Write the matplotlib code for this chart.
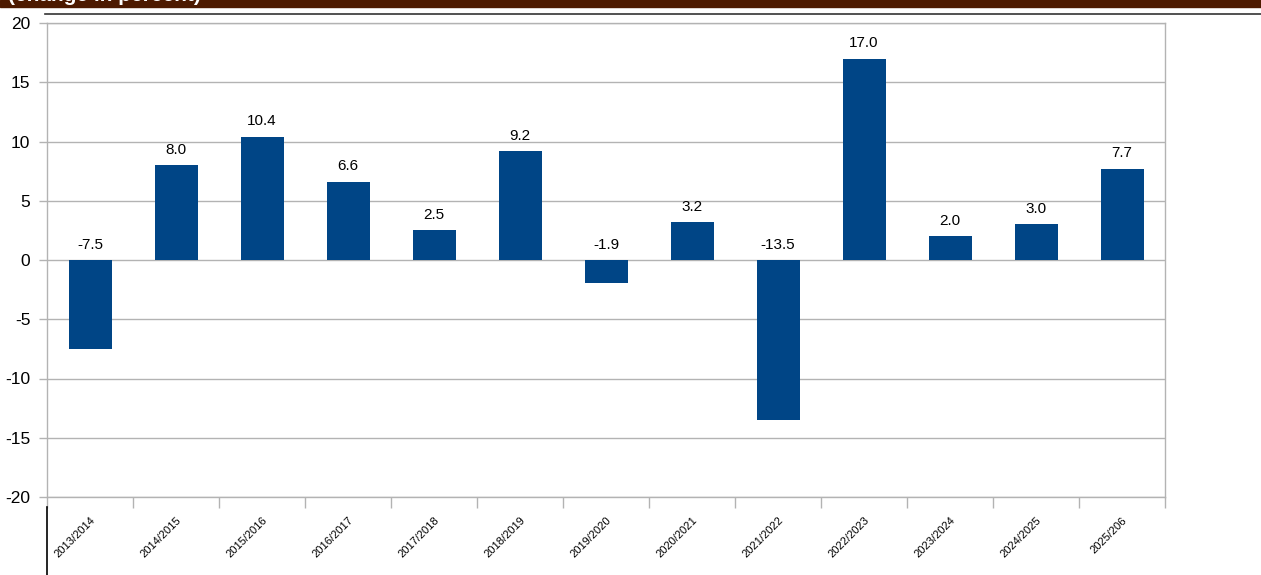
import numpy as np
import matplotlib.pyplot as plt

plt.rcParams['font.family'] = ['Liberation Sans', 'DejaVu Sans']

# -----------------------
# data
# -----------------------
seasons = ["2013/2014", "2014/2015", "2015/2016", "2016/2017", "2017/2018",
           "2018/2019", "2019/2020", "2020/2021", "2021/2022", "2022/2023",
           "2023/2024", "2024/2025", "2025/206"]
change = [-7.5, 8.0, 10.4, 6.6, 2.5, 9.2, -1.9, 3.2, -13.5, 17.0, 2.0, 3.0, 7.7]
yticks = [-20, -15, -10, -5, 0, 5, 10, 15, 20]

BAR_COLOR = "#004586"
GRID = "#b3b3b3"

W, H = 1261, 575
fig = plt.figure(figsize=(W / 100, H / 100), dpi=100)

# plot area in pixels: x 47..1165, y 23..497
ax = fig.add_axes([47 / W, 1 - 497 / H, (1165 - 47) / W, (497 - 23) / H])

x = np.arange(len(seasons))
ax.bar(x, change, width=0.5, color=BAR_COLOR, zorder=3)
ax.set_xlim(-0.5, len(seasons) - 0.5)
ax.set_ylim(-20, 20)
ax.set_yticks(yticks)
ax.set_yticklabels([str(t) for t in yticks], fontsize=12.5)
ax.yaxis.grid(True, color=GRID, linewidth=1, zorder=0)

# category boundary ticks on x axis
ax.set_xticks(np.arange(len(seasons) + 1) - 0.5, minor=False)
ax.set_xticklabels([])
ax.tick_params(axis='x', length=8, color=GRID, width=1)
ax.tick_params(axis='y', length=6, color=GRID, width=1, pad=6)
for s in ax.spines.values():
    s.set_color(GRID)
    s.set_linewidth(1)

# season labels, rotated
for i, s in enumerate(seasons):
    ax.annotate(s, xy=(i, -20), xytext=(0, -13), textcoords='offset points',
                rotation=45, ha='right', va='top', fontsize=8,
                rotation_mode='anchor', annotation_clip=False)

# value labels sit above the bar top (or above zero for negatives)
for i, v in enumerate(change):
    ax.annotate(f"{v:.1f}", xy=(i, max(v, 0)), xytext=(0, 6),
                textcoords='offset points', ha='center', va='bottom', fontsize=11)

# dark banner at the top with clipped title text
fig.patches.append(plt.Rectangle((0, 1 - 7 / H), 1, 7 / H, transform=fig.transFigure,
                                 color="#4d1a00", zorder=0))
fig.text(8 / W, 1 - 1 / H, "(change in percent)", color="white", fontsize=15,
         fontweight='bold', va='baseline', ha='left')
fig.lines.append(plt.Line2D([45 / W, 1], [1 - 14 / H, 1 - 14 / H],
                            transform=fig.transFigure, color="#333333", linewidth=1.2))
fig.lines.append(plt.Line2D([47 / W, 47 / W], [0, 1 - 507 / H],
                            transform=fig.transFigure, color="black", linewidth=1.2))

fig.savefig("out.png", dpi=100)
